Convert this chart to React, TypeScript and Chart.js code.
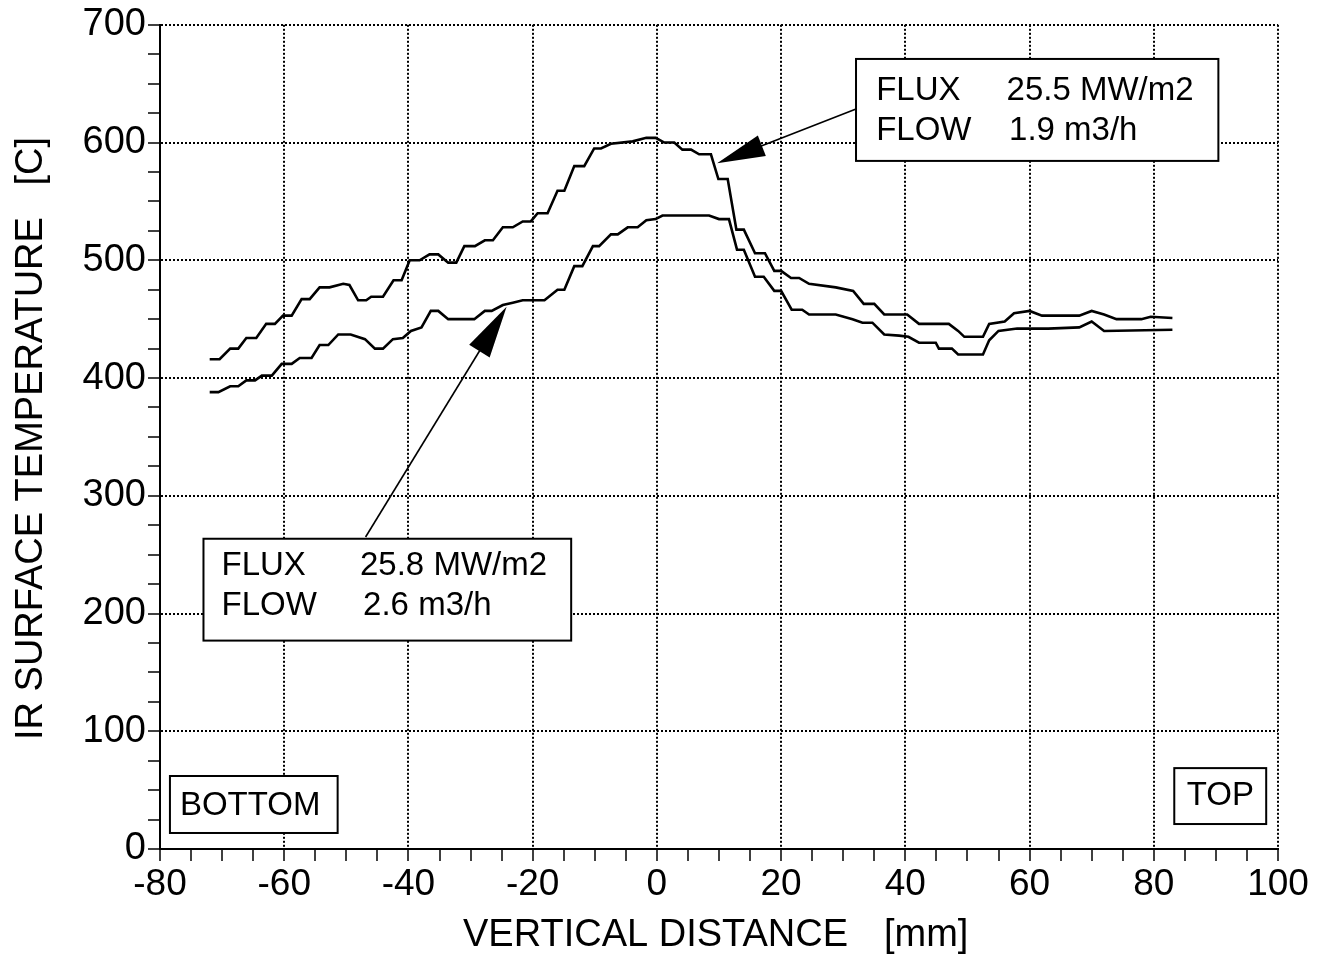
import React, { useEffect, useRef } from 'react';
import { Chart, registerables } from 'chart.js';

Chart.register(...registerables);

// ---- axis ranges / ticks ----
const X_MIN = -80;
const X_MAX = 100;
const X_MINOR_STEP = 5;
const X_MAJOR_STEP = 20;
const Y_MIN = 0;
const Y_MAX = 700;
const Y_MINOR_STEP = 25;
const Y_MAJOR_STEP = 100;

const X_TITLE = 'VERTICAL DISTANCE';
const X_UNIT = '[mm]';
const Y_TITLE = 'IR SURFACE TEMPERATURE';
const Y_UNIT = '[C]';

// ---- series: FLUX 25.5 MW/m2, FLOW 1.9 m3/h (upper curve) ----
const upperX = [
  -72, -70.4, -68.7, -67.4, -66.1, -64.5, -62.9, -61.5, -60.2, -58.8,
  -57.2, -55.9, -54.3, -52.7, -50.5, -49.5, -48.1, -46.8, -46, -44.1,
  -42.4, -41.1, -39.8, -38.2, -36.6, -35.2, -33.6, -32.3, -31, -29.3,
  -27.7, -26.4, -24.8, -23.2, -21.6, -20.3, -19.2, -17.6, -16, -14.9,
  -13.3, -11.7, -10.1, -9, -7.4, -3.9, -1.7, -0.2, 1.2, 2.8,
  4.1, 5.5, 6.8, 8.7, 9.9, 11.4, 12.8, 14, 15.8, 17.4,
  18.9, 20, 21.6, 22.9, 24.5, 28.8, 31.6, 33.3, 35, 36.6,
  40.3, 42.2, 47, 48.5, 49.5, 52.5, 53.5, 56, 57.5, 60,
  62, 68, 70, 72, 74, 78, 79.5, 83,
];
const upperY = [
  416, 416, 425, 425, 434, 434, 446, 446, 453, 453,
  467, 467, 477, 477, 480, 479, 466, 466, 469, 469,
  483, 483, 500, 500, 505, 505, 498, 498, 512, 512,
  517, 517, 528, 528, 533, 533, 540, 540, 559, 559,
  580, 580, 595, 595, 599, 601, 604, 604, 600, 600,
  594, 594, 590, 590, 569, 569, 526, 526, 506, 506,
  491, 491, 485, 485, 480, 477, 474, 463, 463, 454,
  454, 446, 446, 440, 435, 435, 446, 448, 455, 457,
  453, 453, 457, 454, 450, 450, 452, 451,
];

// ---- series: FLUX 25.8 MW/m2, FLOW 2.6 m3/h (lower curve) ----
const lowerX = [
  -72, -70.6, -68.7, -67.4, -66.1, -64.7, -63.6, -62, -60.4, -58.8,
  -57.5, -55.6, -54.3, -52.9, -51.3, -49.3, -47, -45.4, -44.1, -42.5,
  -40.9, -39.6, -37.9, -36.4, -35.2, -33.6, -29.4, -27.7, -26.6, -24.8,
  -23.2, -21.6, -18.1, -16, -14.9, -13.3, -12, -10.3, -9.3, -7.4,
  -6.3, -4.7, -3.1, -1.7, -0.2, 0.9, 8.4, 10, 11.6, 12.9,
  14, 15.8, 17.2, 18.9, 20, 21.7, 23.4, 24.5, 28.8, 31.5,
  33.1, 34.7, 36.6, 39, 40.5, 42.2, 44.9, 45.4, 47.5, 48.5,
  52.5, 53.5, 55, 58, 63, 68, 70, 72, 83,
];
const lowerY = [
  388, 388, 393, 393, 398, 398, 402, 402, 412, 412,
  417, 417, 428, 428, 437, 437, 433, 425, 425, 433,
  434, 440, 443, 457, 457, 450, 450, 457, 457, 462,
  464, 466, 466, 475, 475, 495, 495, 512, 512, 522,
  522, 528, 528, 534, 535, 538, 538, 535, 535, 509,
  509, 486, 486, 474, 474, 458, 458, 454, 454, 450,
  447, 447, 437, 436, 435, 430, 430, 425, 425, 420,
  420, 432, 440, 442, 442, 443, 448, 440, 441,
];

// ---- annotation texts ----
const upperBoxLines = [['FLUX', '25.5 MW/m2'], ['FLOW', '1.9 m3/h']];
const lowerBoxLines = [['FLUX', '25.8 MW/m2'], ['FLOW', '2.6 m3/h']];
const BOTTOM_LABEL = 'BOTTOM';
const TOP_LABEL = 'TOP';

const FONT = "'Liberation Sans', Arial, Helvetica, sans-serif";

function toPoints(xs: number[], ys: number[]) {
  return xs.map((x, i) => ({ x, y: ys[i] }));
}

const annotationPlugin = {
  id: 'annotations',
  afterDatasetsDraw(chart: any) {
    const { ctx } = chart;
    const xs = chart.scales.x;
    const ys = chart.scales.y;
    const X = (v: number) => xs.getPixelForValue(v);
    const Y = (v: number) => ys.getPixelForValue(v);

    const arrow = (tx: number, ty: number, hx: number, hy: number, len: number, half: number) => {
      const x0 = X(tx), y0 = Y(ty), x1 = X(hx), y1 = Y(hy);
      const ang = Math.atan2(y1 - y0, x1 - x0);
      ctx.save();
      ctx.strokeStyle = '#000';
      ctx.lineWidth = 1.6;
      ctx.beginPath();
      ctx.moveTo(x0, y0);
      ctx.lineTo(x1 - Math.cos(ang) * len * 0.8, y1 - Math.sin(ang) * len * 0.8);
      ctx.stroke();
      const bx = x1 - Math.cos(ang) * len;
      const by = y1 - Math.sin(ang) * len;
      ctx.fillStyle = '#000';
      ctx.beginPath();
      ctx.moveTo(x1, y1);
      ctx.lineTo(bx + Math.sin(ang) * half, by - Math.cos(ang) * half);
      ctx.lineTo(bx - Math.sin(ang) * half, by + Math.cos(ang) * half);
      ctx.closePath();
      ctx.fill();
      ctx.restore();
    };

    const box = (x0: number, y0: number, x1: number, y1: number) => {
      const l = X(x0), t = Y(y0), r = X(x1), b = Y(y1);
      ctx.save();
      ctx.fillStyle = '#fff';
      ctx.fillRect(l, t, r - l, b - t);
      ctx.strokeStyle = '#000';
      ctx.lineWidth = 2;
      ctx.strokeRect(l, t, r - l, b - t);
      ctx.restore();
    };

    const text = (s: string, x: number, y: number) => {
      ctx.save();
      ctx.fillStyle = '#000';
      ctx.font = `33px ${FONT}`;
      ctx.textAlign = 'left';
      ctx.textBaseline = 'alphabetic';
      ctx.fillText(s, X(x), Y(y));
      ctx.restore();
    };

    // arrows
    arrow(32.06, 628.5, 9.7, 582.5, 48, 11);
    arrow(-46.9, 265, -24.2, 460.5, 52, 12);

    // upper annotation box
    box(32.06, 671, 90.4, 584.4);
    text(upperBoxLines[0][0], 35.3, 636);
    text(upperBoxLines[0][1], 56.3, 636);
    text(upperBoxLines[1][0], 35.3, 602.2);
    text(upperBoxLines[1][1], 56.7, 602.2);

    // lower annotation box
    box(-73, 263.5, -13.8, 177);
    text(lowerBoxLines[0][0], -70.1, 232.4);
    text(lowerBoxLines[0][1], -47.8, 232.4);
    text(lowerBoxLines[1][0], -70.1, 198.5);
    text(lowerBoxLines[1][1], -47.3, 198.5);

    // BOTTOM / TOP labels
    box(-78.4, 62, -51.4, 13.6);
    text(BOTTOM_LABEL, -76.8, 28.8);
    box(83.3, 68.7, 98.1, 21.2);
    text(TOP_LABEL, 85.3, 37.3);
  },
  afterDraw(chart: any) {
    const { ctx } = chart;
    ctx.save();
    ctx.fillStyle = '#000';
    ctx.font = `38px ${FONT}`;
    ctx.textBaseline = 'alphabetic';
    ctx.textAlign = 'left';
    ctx.fillText(X_TITLE, 463, 946);
    ctx.fillText(X_UNIT, 884, 946);
    ctx.translate(42, 740);
    ctx.rotate(-Math.PI / 2);
    ctx.fillText(Y_TITLE, 0, 0);
    ctx.textAlign = 'right';
    ctx.fillText(Y_UNIT, 740 - 137, 0);
    ctx.restore();
  },
};

export default function App() {
  const ref = useRef<HTMLCanvasElement | null>(null);

  useEffect(() => {
    document.body.style.margin = '0';
    document.body.style.background = '#fff';
    const canvas = ref.current;
    if (!canvas) return;

    const isMajorX = (v: number) => Math.abs(v % X_MAJOR_STEP) < 1e-6;
    const isMajorY = (v: number) => Math.abs(v % Y_MAJOR_STEP) < 1e-6;

    const chart = new Chart(canvas, {
      type: 'scatter',
      data: {
        datasets: [
          {
            label: 'FLUX 25.5 MW/m2, FLOW 1.9 m3/h',
            data: toPoints(upperX, upperY),
            showLine: true,
            borderColor: '#000',
            borderWidth: 2.6,
            pointRadius: 0,
            tension: 0,
            fill: false,
          },
          {
            label: 'FLUX 25.8 MW/m2, FLOW 2.6 m3/h',
            data: toPoints(lowerX, lowerY),
            showLine: true,
            borderColor: '#000',
            borderWidth: 2.6,
            pointRadius: 0,
            tension: 0,
            fill: false,
          },
        ],
      },
      options: {
        responsive: false,
        animation: false,
        events: [],
        layout: { padding: { top: 24, right: 51, left: 0, bottom: 0 } },
        plugins: {
          legend: { display: false },
          tooltip: { enabled: false },
          title: { display: false },
        },
        scales: {
          x: {
            type: 'linear',
            min: X_MIN,
            max: X_MAX,
            afterFit: (s: any) => { s.height = 111; },
            ticks: {
              stepSize: X_MINOR_STEP,
              autoSkip: false,
              maxRotation: 0,
              color: '#000',
              padding: 2,
              font: { family: FONT, size: 37 },
              callback: (v: any) => (isMajorX(Number(v)) ? String(v) : ''),
            },
            grid: {
              color: (c: any) => (c.tick && isMajorX(c.tick.value) && c.tick.value !== X_MIN ? '#000' : 'rgba(0,0,0,0)'),
              lineWidth: 2,
              tickColor: '#000',
              tickWidth: 1.5,
              tickLength: 12,
              drawTicks: true,
            },
            border: { display: true, color: '#000', width: 2, dash: [2, 2] },
          },
          y: {
            type: 'linear',
            min: Y_MIN,
            max: Y_MAX,
            afterFit: (s: any) => { s.width = 160; },
            ticks: {
              stepSize: Y_MINOR_STEP,
              autoSkip: false,
              color: '#000',
              padding: 2,
              font: { family: FONT, size: 38 },
              callback: (v: any) => (isMajorY(Number(v)) ? String(v) : ''),
            },
            grid: {
              color: (c: any) => (c.tick && isMajorY(c.tick.value) && c.tick.value !== Y_MIN ? '#000' : 'rgba(0,0,0,0)'),
              lineWidth: 2,
              tickColor: '#000',
              tickWidth: 1.5,
              tickLength: 12,
              drawTicks: true,
            },
            border: { display: true, color: '#000', width: 2, dash: [2, 2] },
          },
        },
      },
      plugins: [annotationPlugin],
    } as any);

    return () => chart.destroy();
  }, []);

  return (
    <div style={{ width: 1329, height: 960, background: '#fff' }}>
      <canvas ref={ref} width={1329} height={960} style={{ display: 'block', width: 1329, height: 960 }} />
    </div>
  );
}
